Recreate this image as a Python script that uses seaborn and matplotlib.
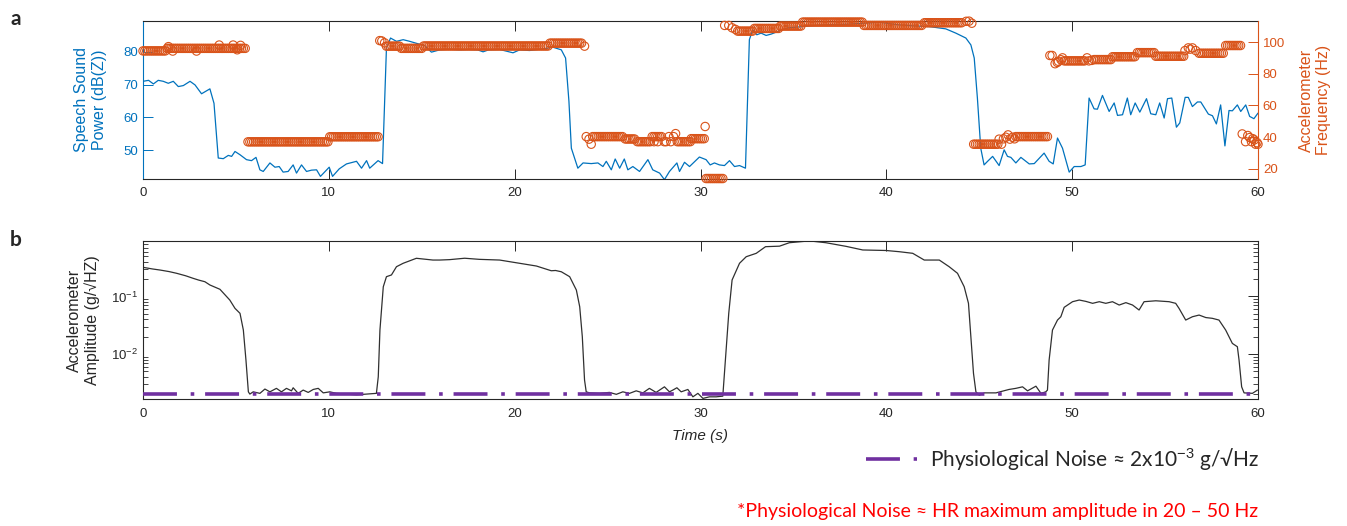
import numpy as np
import pandas as pd
import matplotlib
matplotlib.use("Agg")
import matplotlib.pyplot as plt
import seaborn as sns
from matplotlib.ticker import LogLocator, NullFormatter

# ---------------- panel a: speech sound power, dB(Z) ----------------
speech_t = [0.0, 0.3, 0.56, 0.82, 1.09, 1.36, 1.63, 1.90, 2.17, 2.53, 2.80, 3.15, 3.60, 3.82,
            4.05, 4.32, 4.59, 4.77, 4.95, 5.22, 5.57, 5.84, 6.08, 6.29, 6.47, 6.83, 7.10, 7.33,
            7.54, 7.81, 8.08, 8.26, 8.53, 8.80, 9.07, 9.34, 9.55, 10.02, 10.20, 10.56, 10.95,
            11.49, 11.76, 12.03, 12.20, 12.65, 12.89, 13.10, 13.32, 13.64, 14.00, 14.35, 14.71,
            15.16, 15.52, 15.97, 16.5, 17.0, 17.5, 18.0, 18.30, 18.6, 19.2, 19.91, 20.27, 20.8,
            21.52, 22.06, 22.51, 22.74, 22.92, 23.05, 23.40, 23.68, 24.12, 24.48, 24.75, 24.93,
            25.20, 25.41, 25.65, 25.90, 26.09, 26.36, 26.72, 27.17, 27.43, 27.80, 28.06, 28.33,
            28.73, 28.87, 29.14, 29.41, 29.94, 30.30, 30.52, 30.75, 31.02, 31.29, 31.56, 31.83,
            32.10, 32.42, 32.63, 32.81, 33.03, 33.26, 33.53, 33.80, 34.25, 34.7, 35.32, 36.4,
            37.83, 39.62, 40.7, 41.5, 42.31, 43.20, 43.74, 44.28, 44.55, 44.73, 44.90, 45.08,
            45.26, 45.45, 45.72, 46.07, 46.34, 46.52, 46.70, 46.97, 47.24, 47.69, 47.96, 48.49,
            48.76, 48.98, 49.21, 49.48, 49.84, 50.11, 50.47, 50.70, 50.91, 51.18, 51.36, 51.63,
            51.99, 52.26, 52.44, 52.71, 52.97, 53.15, 53.39, 53.64, 54.00, 54.23, 54.50, 54.71,
            54.95, 55.13, 55.36, 55.61, 55.79, 56.08, 56.25, 56.47, 56.74, 56.92, 57.33, 57.55,
            57.76, 57.99, 58.22, 58.44, 58.62, 58.89, 59.07, 59.34, 59.55, 59.78, 60.0]
speech_db = [71.0, 71.3, 70.2, 71.3, 71.0, 70.4, 71.0, 69.4, 69.7, 71.0, 69.9, 67.2, 68.7, 64.3,
             47.6, 47.4, 48.4, 48.1, 49.6, 48.6, 47.1, 46.8, 47.8, 44.0, 43.5, 46.1, 44.8, 45.0,
             43.3, 43.5, 45.5, 43.0, 45.5, 43.5, 43.9, 44.0, 42.0, 44.8, 42.0, 44.3, 45.8,
             46.6, 44.5, 46.8, 44.5, 46.8, 45.9, 81.1, 84.2, 83.2, 83.7, 83.2, 82.6,
             81.9, 79.9, 80.6, 80.8, 80.6, 80.7, 80.6, 80.0, 80.6, 80.7, 79.7, 80.6, 80.4,
             80.9, 81.4, 80.6, 78.1, 64.9, 50.6, 44.5, 46.1, 45.9, 46.1, 45.0, 46.6,
             44.0, 47.3, 44.5, 47.3, 44.0, 45.0, 43.5, 47.1, 44.0, 43.0, 41.0, 43.5,
             46.1, 43.5, 46.3, 45.0, 47.9, 47.1, 45.5, 46.1, 45.5, 45.3, 46.8, 45.0,
             45.3, 44.5, 83.7, 86.7, 85.2, 85.7, 85.0, 85.4, 86.4, 87.3, 87.6, 88.2,
             88.4, 89.0, 88.2, 87.9, 87.7, 87.0, 85.7, 84.2, 82.1, 78.1, 65.9, 50.6,
             45.5, 46.6, 48.1, 45.3, 50.1, 48.1, 47.8, 46.1, 47.8, 45.8, 45.9, 49.1,
             46.6, 45.8, 53.7, 50.6, 43.3, 45.0, 45.0, 45.5, 65.9, 62.6, 62.5, 66.7,
             61.8, 64.4, 60.6, 60.8, 65.9, 60.8, 64.4, 61.6, 65.7, 61.1, 60.8, 64.4,
             59.8, 65.7, 65.9, 57.0, 58.3, 66.1, 66.1, 63.3, 64.7, 64.7, 61.0, 60.5,
             58.0, 63.8, 51.3, 62.1, 62.0, 63.8, 61.8, 63.8, 60.3, 59.6, 61.3]

# ---------------- panel a: accelerometer dominant frequency, Hz ----------------
# runs of a constant estimate (start s, end s, Hz); one estimate every 0.1 s
freq_runs = [(0.0, 1.2, 94.5), (1.3, 5.55, 96.1), (5.65, 9.95, 37.0), (10.05, 12.65, 40.2),
             (13.1, 13.8, 97.5), (13.9, 15.0, 96.1), (15.1, 21.8, 97.6), (21.9, 23.65, 99.4),
             (24.2, 25.85, 40.3), (25.95, 26.5, 38.8), (26.6, 27.3, 37.1), (27.4, 27.95, 40.3),
             (28.75, 29.45, 37.1), (29.5, 30.2, 39.0), (30.3, 31.2, 13.8), (32.0, 32.8, 107.0),
             (32.9, 34.2, 108.7), (34.3, 35.4, 110.2), (35.5, 38.7, 112.7), (38.8, 41.95, 110.6),
             (42.05, 44.1, 112.3), (44.7, 46.0, 35.5), (46.97, 48.76, 40.3), (49.57, 50.7, 88.2),
             (51.18, 52.08, 89.0), (52.17, 53.42, 90.8), (53.51, 54.41, 93.4), (54.5, 56.0, 91.1),
             (56.83, 58.17, 93.0), (58.26, 59.15, 97.9)]
freq_step = 0.1
# isolated estimates between the runs
freq_extra_t = [1.37, 1.6, 2.88, 4.1, 4.85, 5.07, 5.25,
                12.74, 12.85, 13.0, 23.76,
                23.85, 24.0, 24.12, 27.5, 27.7, 28.05, 28.15, 28.3, 28.4, 28.55, 28.66, 30.25,
                31.3, 31.52, 31.7, 31.88, 44.3, 44.45, 44.6,
                46.07, 46.2, 46.3, 46.43, 46.55, 46.65, 46.79, 46.9,
                48.8, 48.92, 49.08, 49.2, 49.26, 49.4, 49.48, 50.8, 50.9, 51.05,
                56.07, 56.25, 56.35, 56.47, 56.65,
                59.15, 59.33, 59.45, 59.55, 59.65, 59.72, 59.8, 59.87, 59.95, 60.0]
freq_extra_hz = [97.2, 94.4, 94.4, 98.2, 98.2, 95.2, 98.0,
                 101.0, 100.8, 99.6, 97.5,
                 40.3, 38.7, 35.5, 37.1, 37.1, 37.1, 37.1, 40.3, 37.1, 40.3, 42.2, 46.7,
                 110.6, 110.6, 109.1, 108.1, 113.2, 113.3, 112.0,
                 38.7, 35.5, 38.9, 39.9, 41.4, 38.7, 39.9, 38.9,
                 91.6, 91.6, 86.4, 87.2, 87.9, 88.9, 90.1, 90.1, 88.2, 88.5,
                 94.7, 96.4, 95.6, 96.4, 94.7,
                 42.0, 37.1, 41.0, 39.7, 37.1, 39.0, 38.2, 35.5, 36.5, 35.5]

# ---------------- panel b: accelerometer amplitude, g/sqrt(Hz) ----------------
amp_t = [0.0, 0.5, 0.92, 1.4, 1.81, 2.3, 2.70, 3.0, 3.33, 3.60, 4.14, 4.67, 4.95, 5.22, 5.40,
         5.54, 5.67, 5.75, 5.93, 6.29, 6.56, 6.83, 7.18, 7.45, 7.72, 7.99, 8.08, 8.35, 8.62,
         8.89, 9.16, 9.43, 9.70, 10.05, 10.41, 10.95, 11.49, 12.03, 12.56, 12.66, 12.75,
         12.93, 13.10, 13.37, 13.64, 14.00, 14.71, 15.6, 15.97, 16.5, 17.31, 18.1, 19.19,
         20.27, 21.17, 21.8, 21.97, 22.2, 22.51, 22.96, 23.32, 23.50, 23.64, 23.76, 23.85,
         24.03, 24.57, 25.1, 25.47, 25.82, 26.18, 26.54, 26.9, 27.25, 27.61, 28.06, 28.33,
         28.51, 28.73, 28.96, 29.32, 29.59, 29.86, 30.13, 30.48, 30.84, 31.2, 31.34, 31.52,
         31.70, 32.10, 32.46, 33.0, 33.5, 34.25, 34.78, 35.86, 36.75, 37.83, 38.73, 39.98,
         40.7, 41.42, 42.04, 42.85, 43.38, 43.83, 44.19, 44.42, 44.55, 44.69, 44.82, 45.0,
         45.27, 45.9, 46.6, 46.97, 47.33, 47.6, 48.05, 48.32, 48.58, 48.67, 48.76, 48.94,
         49.21, 49.39, 49.57, 50.02, 50.38, 50.74, 51.1, 51.46, 51.81, 52.17, 52.53, 52.89,
         53.25, 53.6, 53.87, 54.5, 55.22, 55.57, 55.75, 56.11, 56.47, 56.83, 57.19, 57.54,
         57.9, 58.26, 58.62, 58.89, 58.98, 59.12, 59.25, 59.7, 59.97]
amp_g = [0.320, 0.300, 0.287, 0.270, 0.252, 0.228, 0.206, 0.192, 0.180, 0.158, 0.133, 0.0866,
         0.0621, 0.0509, 0.0261, 0.00787, 0.00221, 0.00202, 0.00221, 0.00208, 0.00247, 0.00221,
         0.00254, 0.00221, 0.00254, 0.00230, 0.00260, 0.00208, 0.00237, 0.00216, 0.00243,
         0.00254, 0.00212, 0.00221, 0.00208, 0.00202, 0.00196, 0.00202, 0.00208, 0.00403,
         0.0261, 0.147, 0.220, 0.236, 0.328, 0.376, 0.459, 0.428, 0.428, 0.435, 0.460, 0.440,
         0.428, 0.376, 0.337, 0.290, 0.279, 0.282, 0.268, 0.220, 0.129, 0.0662, 0.0200,
         0.00354, 0.00221, 0.00212, 0.00208, 0.00216, 0.00200, 0.00221, 0.00208, 0.00230,
         0.00212, 0.00254, 0.00216, 0.00270, 0.00221, 0.00237, 0.00260, 0.00221, 0.00243,
         0.00181, 0.00208, 0.00170, 0.00181, 0.00181, 0.00186, 0.00787, 0.0509, 0.193, 0.376,
         0.489, 0.560, 0.730, 0.745, 0.855, 0.920, 0.855, 0.740, 0.640, 0.627, 0.597, 0.560,
         0.428, 0.428, 0.328, 0.252, 0.147, 0.0759, 0.0200, 0.00463, 0.00221, 0.00193,
         0.00212, 0.00212, 0.00243, 0.00254, 0.00270, 0.00230, 0.00277, 0.00208, 0.00221,
         0.00237, 0.00787, 0.0261, 0.0389, 0.0444, 0.0647, 0.0810, 0.0866, 0.0820, 0.0759,
         0.0810, 0.0759, 0.0810, 0.0709, 0.0780, 0.0709, 0.0581, 0.0810, 0.0840, 0.0810,
         0.0759, 0.0621, 0.0389, 0.0444, 0.0475, 0.0430, 0.0417, 0.0389, 0.0261, 0.0153,
         0.0134, 0.00787, 0.00270, 0.00212, 0.00208, 0.00237]
noise_level = 2e-3  # physiological noise floor, g/sqrt(Hz)

# ---------------- tables ----------------
speech_df = pd.DataFrame({"t": speech_t, "db": speech_db})
run_t, run_hz = [], []
for t0, t1, hz in freq_runs:
    ts = np.arange(t0, t1 + 1e-6, freq_step)
    run_t.extend(ts)
    run_hz.extend([hz] * len(ts))
freq_df = pd.DataFrame({"t": run_t + freq_extra_t, "hz": run_hz + freq_extra_hz})
amp_df = pd.DataFrame({"t": amp_t, "amp": amp_g})

# ---------------- style ----------------
BLUE = "#0072BD"
ORANGE = "#D95319"
PURPLE = "#7030A0"
DARK = "#262626"

sns.set_theme(style="white")
plt.rcParams["font.family"] = ["Liberation Sans", "DejaVu Sans"]
plt.rcParams["mathtext.fontset"] = "custom"
plt.rcParams["mathtext.rm"] = "Liberation Sans"
plt.rcParams["mathtext.it"] = "Liberation Sans:italic"
plt.rcParams["axes.linewidth"] = 0.8

W, H = 1347, 526
fig = plt.figure(figsize=(W / 100, H / 100), dpi=100)
ax_a = fig.add_axes([143 / W, 1 - 179 / H, 1115 / W, 158 / H])
ax_b = fig.add_axes([143 / W, 1 - 399.3 / H, 1115 / W, 158.6 / H])

# ---- panel a ----
sns.lineplot(data=speech_df, x="t", y="db", ax=ax_a, color=BLUE, linewidth=0.9,
             estimator=None, sort=False)
ax_a2 = ax_a.twinx()
sns.scatterplot(data=freq_df, x="t", y="hz", ax=ax_a2, marker="o", s=36, linewidth=0.8,
                color=ORANGE, clip_on=False, zorder=3)
for coll in ax_a2.collections:
    coll.set_facecolor("none")
    coll.set_edgecolor(ORANGE)

ax_a.set_xlim(0, 60)
ax_a.set_ylim(41.2, 89.4)
ax_a2.set_ylim(13.5, 113.4)
ax_a.set_xticks(range(0, 61, 10))
ax_a.set_yticks([50, 60, 70, 80])
ax_a2.set_yticks([20, 40, 60, 80, 100])
ax_a.set_xlabel("")
ax_a2.set_xlabel("")
ax_a.set_ylabel("Speech Sound\nPower (dB(Z))", color=BLUE, fontsize=11.5, labelpad=12)
ax_a2.set_ylabel("Accelerometer\nFrequency (Hz)", color=ORANGE, fontsize=11.5, labelpad=10)

for s in ("top", "bottom"):
    ax_a.spines[s].set_color(DARK)
ax_a.spines["left"].set_color(BLUE)
ax_a.spines["right"].set_visible(False)
ax_a2.spines["left"].set_visible(False)
ax_a2.spines["top"].set_visible(False)
ax_a2.spines["bottom"].set_visible(False)
ax_a2.spines["right"].set_color(ORANGE)
ax_a.tick_params(axis="x", direction="in", length=7.5, width=0.7, top=True, bottom=True,
                 colors=DARK, labelsize=9.5, pad=6)
ax_a.tick_params(axis="y", direction="in", length=7.5, width=0.7, left=True, right=False,
                 colors=BLUE, labelsize=9.5)
ax_a2.tick_params(axis="y", direction="in", length=7.5, width=0.7, right=True,
                  colors=ORANGE, labelsize=9.5)

# ---- panel b ----
sns.lineplot(data=amp_df, x="t", y="amp", ax=ax_b, color="#303030", linewidth=0.9,
             estimator=None, sort=False)
ax_b.set_yscale("log")
noise_line = ax_b.axhline(noise_level, color=PURPLE, linewidth=2.6,
                          dashes=(9.4, 3.8, 1.0, 3.0), zorder=4)
ax_b.set_xlim(0, 60)
ax_b.set_ylim(1.64e-3, 0.927)
ax_b.set_xticks(range(0, 61, 10))
ax_b.yaxis.set_major_locator(LogLocator(base=10, numticks=10))
ax_b.yaxis.set_minor_locator(LogLocator(base=10, subs=np.arange(2, 10), numticks=20))
ax_b.yaxis.set_minor_formatter(NullFormatter())
for s in ax_b.spines.values():
    s.set_color(DARK)
ax_b.tick_params(which="major", direction="in", length=7.5, width=0.7, top=True, right=True,
                 colors=DARK, labelsize=9.5)
ax_b.tick_params(axis="x", pad=6)
ax_b.tick_params(which="minor", direction="in", length=3.5, width=0.6, left=True, right=True,
                 colors=DARK)
ax_b.set_xlabel("Time (s)", fontsize=11, fontstyle="italic", color=DARK, labelpad=7)
ax_b.set_ylabel("Accelerometer\nAmplitude (g/\u221aHZ)", fontsize=11.5, color=DARK, labelpad=8)

# ---- panel letters, key and note ----
fig.text(16 / W, 1 - 25 / H, "a", fontsize=15, fontweight="bold", ha="center",
         va="baseline", family=["Lato", "DejaVu Sans"])
fig.text(16 / W, 1 - 246 / H, "b", fontsize=15, fontweight="bold", ha="center",
         va="baseline", family=["Lato", "DejaVu Sans"])

fig.legend(handles=[noise_line],
           labels=["Physiological Noise \u2248 2x10$^{-3}$ g/\u221aHz"],
           loc="center left", bbox_to_anchor=(866 / W, 1 - 459 / H), frameon=False,
           handlelength=2.45, handletextpad=0.6, borderpad=0, borderaxespad=0,
           prop={"family": ["Lato", "DejaVu Sans"], "size": 15})
fig.text(1258 / W, 1 - 512 / H,
         "*Physiological Noise \u2248 HR maximum amplitude in 20 \u2013 50 Hz",
         color="#FF0000", fontsize=14, ha="right", va="center",
         family=["Lato", "DejaVu Sans"])

fig.savefig("out.png", dpi=100)
